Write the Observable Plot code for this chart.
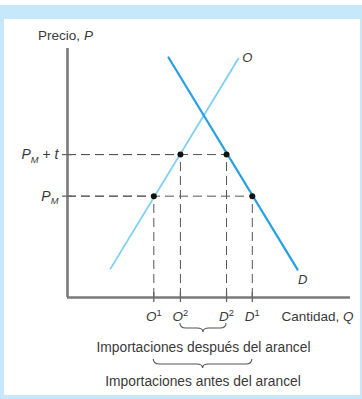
<!DOCTYPE html>
<html>
<head>
<meta charset="utf-8">
<script src="https://cdn.jsdelivr.net/npm/d3@7"></script>
<script src="https://cdn.jsdelivr.net/npm/@observablehq/plot@0.6"></script>
<style>
  body { margin: 0; background: #fff; }
  #frame { position: relative; width: 362px; height: 399px; background: #fff; overflow: hidden; }
  #band { position: absolute; left: 0; top: 5px; width: 362px; height: 394px; background: #c6e8fa; }
  #inner { position: absolute; left: 4px; top: 19px; width: 356px; height: 376px; background: #fff; }
  #chart { position: absolute; left: 0; top: 0; }
</style>
</head>
<body>
<div id="frame"><div id="band"></div><div id="inner"></div><div id="chart"></div></div>
<script>
// ---- data ----
const qLabels = ["*O*^{1}", "*O*^{2}", "*D*^{2}", "*D*^{1}"];
const qValues = [3.05, 3.99, 5.62, 6.53];
const pLabels = ["*P*_{*M*}", "*P*_{*M*} + *t*"];
const pValues = [4.07, 5.74];
const qPriceIndex = [0, 1, 1, 0];          // price level at which each quantity is read
const supplyQ = [1.52, 6.04];
const supplyP = [1.16, 9.60];
const demandQ = [3.57, 8.13];
const demandP = [9.64, 1.12];
const braceFrom = [1, 0];
const braceTo = [2, 3];
const braceLabels = ["Importaciones después del arancel", "Importaciones antes del arancel"];
const xDomain = [0, 10];
const yDomain = [0, 10];
const axisLabels = {y: "Precio, *P*", x: "Cantidad, *Q*"};
const curveLabels = {supply: "*O*", demand: "*D*"};

// ---- derived tables ----
const points = qValues.map((q, i) => ({q, p: pValues[qPriceIndex[i]], label: qLabels[i]}));
const supply = supplyQ.map((q, i) => ({q, p: supplyP[i]}));
const demand = demandQ.map((q, i) => ({q, p: demandP[i]}));
const prices = pValues.map((p, i) => ({p, label: pLabels[i]}));
const braces = braceLabels.map((label, i) => ({a: qValues[braceFrom[i]], b: qValues[braceTo[i]], label}));

const braceTop = [26, 62];
const braceText = [50, 84];
const FONT = "'Liberation Sans', Arial, Helvetica, sans-serif";
const TXT = "#3a3a3a";
const AX = "#7a7a7a";

function braceMark(b, offset) {
  return (index, scales) => {
    const x1 = scales.x(b.a), x2 = scales.x(b.b), xm = (x1 + x2) / 2;
    const y0 = scales.y(yDomain[0]) + offset, h = 8, r = 6;
    const ym = y0 + h / 2 + 1;
    const d = `M${x1},${y0} Q${x1},${ym} ${x1 + r},${ym} L${xm - r},${ym} Q${xm},${ym} ${xm},${y0 + h + 1}` +
              ` Q${xm},${ym} ${xm + r},${ym} L${x2 - r},${ym} Q${x2},${ym} ${x2},${y0}`;
    return d3.create("svg:path").attr("d", d).attr("fill", "none")
      .attr("stroke", "#555").attr("stroke-width", 1.1).node();
  };
}

const yMin = yDomain[0], xMin = xDomain[0];

const chart = Plot.plot({
  width: 362,
  height: 399,
  marginLeft: 67,
  marginRight: 12,
  marginTop: 48,
  marginBottom: 102,
  style: {background: "transparent", fontFamily: FONT, overflow: "visible"},
  x: {domain: xDomain, axis: null},
  y: {domain: yDomain, axis: null},
  marks: [
    // dashed guides
    Plot.ruleY(points, {y: "p", x1: xMin, x2: "q", stroke: "#555", strokeWidth: 1, strokeDasharray: "9,5"}),
    Plot.ruleX(points, {x: "q", y1: yMin, y2: "p", stroke: "#555", strokeWidth: 1, strokeDasharray: "9,5"}),
    // supply & demand
    Plot.line(supply, {x: "q", y: "p", stroke: "#7dd0f5", strokeWidth: 1.8}),
    Plot.line(demand, {x: "q", y: "p", stroke: "#26a0e0", strokeWidth: 2.2}),
    Plot.dot(points, {x: "q", y: "p", r: 3, fill: "#111"}),
    // axes
    Plot.ruleX([xMin], {y1: yDomain[0], y2: yDomain[1], stroke: AX, strokeWidth: 2.6}),
    Plot.ruleY([yMin], {x1: xDomain[0], x2: xDomain[1], stroke: AX, strokeWidth: 2.6}),
    Plot.ruleX(qValues, {x: d => d, y1: yMin, y2: yMin, insetTop: 5, insetBottom: 5, stroke: "#666", strokeWidth: 1.3}),
    Plot.ruleY(pValues, {y: d => d, x1: xMin, x2: xMin, insetLeft: 5, insetRight: 5, stroke: "#666", strokeWidth: 1.3}),
    // tick labels
    Plot.text(points, {x: "q", y: yMin, text: "label", dy: 19, fontSize: 13.5, fill: TXT}),
    Plot.text(prices, {x: xMin, y: "p", text: "label", textAnchor: "end", dx: -9, fontSize: 14, fill: TXT}),
    // axis titles
    Plot.text([axisLabels.y], {x: xMin, y: yDomain[1], text: d => d, dy: -13, dx: -2, fontSize: 13.5, fill: TXT}),
    Plot.text([axisLabels.x], {x: xDomain[1], y: yMin, text: d => d, dy: 19, dx: 3, textAnchor: "end", fontSize: 13.5, fill: TXT}),
    // curve labels
    Plot.text([supply[supply.length - 1]], {x: "q", y: "p", text: () => curveLabels.supply, dx: 9, dy: -1, fontSize: 13, fill: TXT}),
    Plot.text([demand[demand.length - 1]], {x: "q", y: "p", text: () => curveLabels.demand, dx: 5, dy: 10, fontSize: 13, fill: TXT}),
    // braces & their labels
    ...braces.map((b, i) => braceMark(b, braceTop[i])),
    ...braces.map((b, i) => Plot.text([b], {x: d => (d.a + d.b) / 2, y: yMin, text: "label", dy: braceText[i], fontSize: 13.8, fill: TXT}))
  ]
});

// rich text: *italic*, _{sub}, ^{sup}
function richify(svg) {
  d3.select(svg).selectAll("text").each(function () {
    const t = this.textContent;
    if (!/[*_^]/.test(t)) return;
    const el = d3.select(this);
    const fs = parseFloat(el.attr("font-size")) || parseFloat(getComputedStyle(this).fontSize) || 13;
    el.text(null);
    const re = /(_|\^)\{([^}]*)\}|\*([^*]+)\*|([^*_^]+)/g;
    let m, shift = 0;
    while ((m = re.exec(t))) {
      const ts = el.append("tspan");
      if (m[1]) {
        const s = m[1] === "_" ? fs * 0.28 : -fs * 0.38;
        const italic = /^\*.*\*$/.test(m[2]);
        ts.text(m[2].replace(/\*/g, "")).attr("font-size", fs * 0.72).attr("dy", s - shift);
        if (italic) ts.attr("font-style", "italic");
        shift = s;
      } else {
        ts.text(m[3] || m[4]).attr("dy", -shift);
        if (m[3]) ts.attr("font-style", "italic");
        shift = 0;
      }
    }
  });
}
richify(chart);
document.getElementById("chart").appendChild(chart);
</script>
</body>
</html>
